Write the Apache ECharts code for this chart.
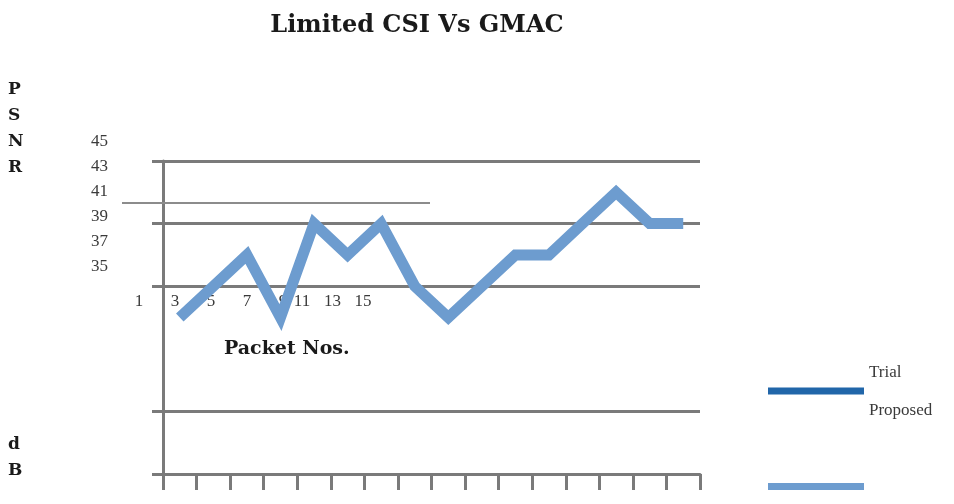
<!DOCTYPE html>
<html>
<head>
<meta charset="utf-8">
<script src="https://cdn.jsdelivr.net/npm/echarts@6/dist/echarts.min.js"></script>
<style>html,body{margin:0;padding:0;background:#fff}#c{width:954px;height:504px}</style>
</head>
<body>
<div id="c"></div>
<script>
// ---- data ----
var titleText = 'Limited CSI Vs GMAC';
var packets = ['1','2','3','4','5','6','7','8','9','10','11','12','13','14','15','16'];
var proposed = [35,36,37,35,38,37,38,36,35,36,37,37,38,39,38,38];
var trial = []; // no visible Trial line in the reference
var gridLevels = ['30','32','34','36','38','40'];
var yTickLabels = ['35','37','39','41','43','45'];
var xTickLabelsA = ['1','3','5','7','9'];
var xTickLabelsB = ['11','13','15'];
var yTitleTop = 'P\nS\nN\nR';
var yTitleBottom = 'd\nB';
var xTitle = 'Packet Nos.';

var gray = '#7a7a7a';
var serif = 'Liberation Serif';
var boldSerif = 'DejaVu Serif';

var chart = echarts.init(document.getElementById('c'), null, {renderer: 'canvas'});
var hidden = {show: false};
function labelAxis(gridIndex, data, pos) {
  return {
    type: 'category', gridIndex: gridIndex, data: data, boundaryGap: false, position: pos,
    axisLine: hidden, axisTick: hidden, splitLine: hidden,
    axisLabel: {show: true, interval: 0, color: '#3a3a3a', fontFamily: serif, fontSize: 17, margin: 6}
  };
}
function pad(n) { var s = ''; for (var i = 0; i < n; i++) s += '\n'; return s; }
chart.setOption({
  animation: false,
  backgroundColor: '#fff',
  title: {
    text: titleText, left: 417, top: 14, textAlign: 'center', padding: 0,
    textStyle: {fontFamily: boldSerif, fontWeight: 'bold', fontSize: 24, color: '#1a1a1a'}
  },
  grid: [
    {left: 163, right: 254, top: 161, bottom: 30, containLabel: false},
    {left: 114, top: 142, width: 10, height: 125},
    {left: 139, top: 270, width: 144, height: 17},
    {left: 302, top: 270, width: 61, height: 17}
  ],
  xAxis: [
    {
      type: 'category', gridIndex: 0, data: packets, boundaryGap: true,
      axisLine: {show: true, lineStyle: {color: gray, width: 3}},
      axisTick: {show: true, length: 16, interval: 0, lineStyle: {color: gray, width: 3}},
      axisLabel: hidden, splitLine: hidden
    },
    {type: 'value', gridIndex: 1, show: false},
    labelAxis(2, xTickLabelsA, 'bottom'),
    labelAxis(3, xTickLabelsB, 'bottom')
  ],
  yAxis: [
    {type: 'value', gridIndex: 0, min: 30, max: 40, interval: 2, position: 'left',
     axisLine: hidden, axisTick: hidden, axisLabel: hidden, splitLine: hidden},
    {
      type: 'category', gridIndex: 0, data: gridLevels, boundaryGap: false, position: 'left', offset: 0,
      axisLine: {show: true, lineStyle: {color: gray, width: 3}},
      axisTick: {show: true, length: 11, interval: function (i) { return i !== 2; }, lineStyle: {color: gray, width: 3}},
      splitLine: {show: true, interval: function (i) { return i !== 2; }, lineStyle: {color: gray, width: 3}},
      axisLabel: hidden
    },
    labelAxis(1, yTickLabels, 'left'),
    {type: 'value', gridIndex: 2, show: false},
    {type: 'value', gridIndex: 3, show: false}
  ],
  legend: [
    {
      data: ['Trial'], left: 768, top: 364, padding: 0, icon: 'rect', itemWidth: 96, itemHeight: 7,
      itemGap: 0, selectedMode: false,
      formatter: function (n) { return n + pad(2); },
      textStyle: {fontFamily: serif, fontSize: 17, color: '#3a3a3a', lineHeight: 18}
    },
    {
      data: ['Proposed'], left: 768, top: 401, padding: 0, icon: 'rect', itemWidth: 96, itemHeight: 7,
      itemGap: 0, selectedMode: false,
      formatter: function (n) { return n + pad(8); },
      textStyle: {fontFamily: serif, fontSize: 17, color: '#3a3a3a', lineHeight: 19}
    }
  ],
  graphic: [
    {type: 'line', shape: {x1: 122, y1: 203, x2: 430, y2: 203}, style: {stroke: '#8c8c8c', lineWidth: 2}, z: 1},
    {type: 'text', left: 8, top: 77, style: {text: yTitleTop, fontFamily: boldSerif, fontWeight: 'bold', fontSize: 17, lineHeight: 26, fill: '#1a1a1a'}},
    {type: 'text', left: 8, top: 432, style: {text: yTitleBottom, fontFamily: boldSerif, fontWeight: 'bold', fontSize: 17, lineHeight: 26, fill: '#1a1a1a'}},
    {type: 'text', left: 224, top: 340, style: {text: xTitle, fontFamily: boldSerif, fontWeight: 'bold', fontSize: 19, fill: '#1a1a1a'}}
  ],
  series: [
    {
      name: 'Trial', type: 'line', xAxisIndex: 0, yAxisIndex: 0, data: trial,
      symbol: 'none', color: '#2166a9', lineStyle: {width: 7, color: '#2166a9'}
    },
    {
      name: 'Proposed', type: 'line', xAxisIndex: 0, yAxisIndex: 0, data: proposed,
      symbol: 'none', color: '#6d9ccf', z: 5,
      lineStyle: {width: 11, color: '#6d9ccf', join: 'miter', cap: 'butt'}
    }
  ]
});
</script>
</body>
</html>
